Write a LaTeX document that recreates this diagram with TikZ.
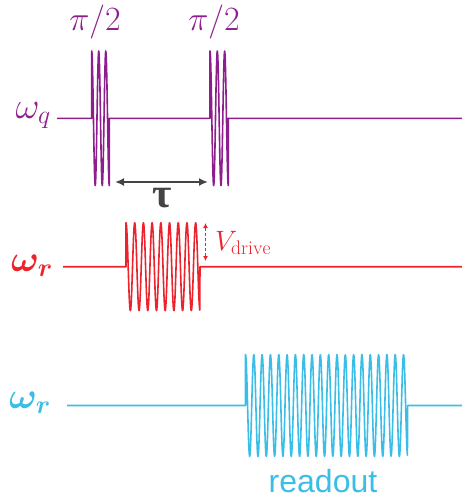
\documentclass[tikz,border=0pt]{standalone}
\IfFileExists{fix-cm.sty}{\usepackage{fix-cm}}{}
\usepackage{amsmath,amssymb}
\usepackage{bm}
\usepackage{fontspec}
\newfontfamily\readoutfont{Liberation Sans}
\newfontfamily\greekfont{Liberation Serif}
\usepackage{xcolor}
\usepackage{tikz}
\usetikzlibrary{arrows.meta,positioning}
\definecolor{qubitpurple}{RGB}{142,30,142}
\definecolor{drivered}{RGB}{236,34,44}
\definecolor{readcyan}{RGB}{58,190,232}
\definecolor{taugray}{RGB}{68,68,68}

\begin{document}
\begin{tikzpicture}[
  x=1pt, y=-1pt,
  wave/.style={line width=1.6pt, line join=round},
  siglabel/.style={inner sep=0pt, font=\fontsize{37}{40}\selectfont},
  pulselabel/.style={inner sep=0pt, font=\fontsize{34}{37}\selectfont, qubitpurple},
  arrow/.style={{Latex[length=9pt,width=8pt]}-{Latex[length=9pt,width=8pt]},
                line width=2pt, draw=taugray, fill=taugray},
  amparrow/.style={{Latex[length=5pt,width=5pt]}-{Latex[length=5pt,width=5pt]},
                   dash pattern=on 3pt off 2pt, line width=1.3pt, drivered}
]
\useasboundingbox (0,0) rectangle (462,499);
% qubit line with the two pi/2 pulses
\draw[wave, qubitpurple] (57,118.3) -- (91.7,118.3)
  -- plot[domain=0:1, samples=61] ({91.7+17.6*\x}, {118.3-67.3*cos(900*\x)})
  -- (109.3,118.3) -- (210,118.3)
  -- plot[domain=0:1, samples=61] ({210+18.3*\x}, {118.3-67.3*cos(900*\x)})
  -- (228.3,118.3) -- (462,118.3);
\node[siglabel, anchor=base east, qubitpurple] (wq) at (51,118) {$\omega_q$};
\node[pulselabel, anchor=base] (pi1) at (95,30) {$\pi/2$};
\node[pulselabel, anchor=base] (pi2) at (214,30) {$\pi/2$};
% delay
\coordinate (tauL) at (115,182);
\coordinate (tauR) at (208,182);
\draw[arrow] (tauL) -- (tauR);
\node[inner sep=0pt, font=\greekfont\bfseries\fontsize{42}{44}\selectfont, taugray] (tau) at (162.5,198) {τ};
% drive tone
\draw[wave, drivered] (63,266.7) -- (126,266.7)
  -- plot[domain=0:1, samples=221] ({126+74*\x}, {266.7-44*cos(3060*\x)})
  -- (200,266.7) -- (462,266.7);
\node[siglabel, anchor=base east, drivered] (wr) at (53,271) {$\bm{\omega_r}$};
\coordinate (vtop) at (205.5,223);
\coordinate (vbot) at (205.5,261);
\draw[amparrow] (vtop) -- (vbot);
\node[inner sep=0pt, anchor=base west, font=\fontsize{28}{30}\selectfont, drivered] (vdrive) at (215,250) {$V_{\mathrm{drive}}$};
% readout tone
\draw[wave, readcyan] (67,405.5) -- (245.5,405.5)
  -- plot[domain=0:1, samples=441] ({245.5+162.2*\x}, {405.5-51*cos(7020*\x)})
  -- (407.7,405.5) -- (462,405.5);
\node[siglabel, anchor=base east, readcyan] (wro) at (51,408) {$\bm{\omega_r}$};
\node[inner sep=0pt, anchor=base, font=\readoutfont\fontsize{32}{35}\selectfont, readcyan] (readout) at (323,492) {readout};
\end{tikzpicture}
\end{document}
